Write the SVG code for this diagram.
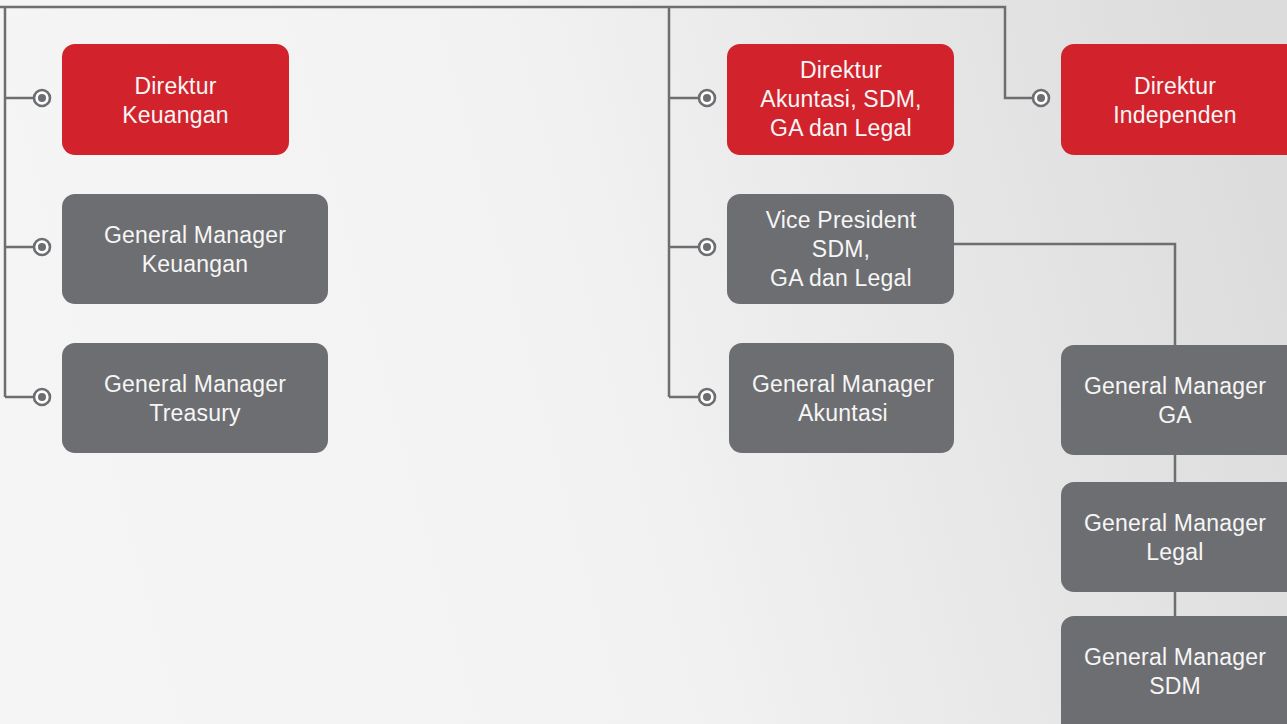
<svg xmlns="http://www.w3.org/2000/svg" width="1287" height="724" viewBox="0 0 1287 724">
<defs>
<linearGradient id="bg" x1="0" y1="0.5" x2="1" y2="0.35">
<stop offset="0" stop-color="#f5f5f5"/>
<stop offset="0.45" stop-color="#f2f2f2"/>
<stop offset="1" stop-color="#dcdcdc"/>
</linearGradient>
<style>
.red{fill:#d2232d}
.gray{fill:#6d6e71}
.ln{fill:none;stroke:#6d6e71;stroke-width:2.5}
.dotring{fill:#ffffff;stroke:#6d6e71;stroke-width:2.6}
.dot{fill:#6d6e71}
text{font-family:"Liberation Sans",Arial,sans-serif;font-size:23px;fill:#f6f6f6;text-anchor:middle;letter-spacing:0.2px}
</style>
</defs>
<rect width="1287" height="724" fill="url(#bg)"/>
<g id="connectors">
<path class="ln" d="M0 7 H1005 V98 H1033"/>
<path class="ln" d="M5 7 V397"/>
<path class="ln" d="M5 98 H34 M5 247 H34 M5 397 H34"/>
<path class="ln" d="M669 7 V397"/>
<path class="ln" d="M669 98 H699 M669 247 H699 M669 397 H699"/>
<path class="ln" d="M954 244 H1175 V345"/>
<path class="ln" d="M1175 455 V482 M1175 592 V616"/>
<g>
<circle class="dotring" cx="42" cy="98" r="8"/><circle class="dot" cx="42" cy="98" r="4"/>
<circle class="dotring" cx="42" cy="247" r="8"/><circle class="dot" cx="42" cy="247" r="4"/>
<circle class="dotring" cx="42" cy="397" r="8"/><circle class="dot" cx="42" cy="397" r="4"/>
<circle class="dotring" cx="707" cy="98" r="8"/><circle class="dot" cx="707" cy="98" r="4"/>
<circle class="dotring" cx="707" cy="247" r="8"/><circle class="dot" cx="707" cy="247" r="4"/>
<circle class="dotring" cx="707" cy="397" r="8"/><circle class="dot" cx="707" cy="397" r="4"/>
<circle class="dotring" cx="1041" cy="98" r="8"/><circle class="dot" cx="1041" cy="98" r="4"/>
</g>
</g>
<g id="dir-keuangan">
<rect class="red" x="62" y="44" width="227" height="111" rx="13"/>
<text x="175.5" y="94">Direktur</text>
<text x="175.5" y="123">Keuangan</text>
</g>
<g id="gm-keuangan">
<rect class="gray" x="62" y="194" width="266" height="110" rx="13"/>
<text x="195" y="243">General Manager</text>
<text x="195" y="272">Keuangan</text>
</g>
<g id="gm-treasury">
<rect class="gray" x="62" y="343" width="266" height="110" rx="13"/>
<text x="195" y="392">General Manager</text>
<text x="195" y="421">Treasury</text>
</g>
<g id="dir-akuntasi">
<rect class="red" x="727" y="44" width="227" height="111" rx="13"/>
<text x="841" y="78">Direktur</text>
<text x="841" y="107">Akuntasi, SDM,</text>
<text x="841" y="136">GA dan Legal</text>
</g>
<g id="dir-independen">
<rect class="red" x="1061" y="44" width="240" height="111" rx="13"/>
<text x="1175" y="94">Direktur</text>
<text x="1175" y="123">Independen</text>
</g>
<g id="vp-sdm">
<rect class="gray" x="727" y="194" width="227" height="110" rx="13"/>
<text x="841" y="228">Vice President</text>
<text x="841" y="257">SDM,</text>
<text x="841" y="286">GA dan Legal</text>
</g>
<g id="gm-akuntasi">
<rect class="gray" x="729" y="343" width="225" height="110" rx="13"/>
<text x="843" y="392">General Manager</text>
<text x="843" y="421">Akuntasi</text>
</g>
<g id="gm-ga">
<rect class="gray" x="1061" y="345" width="240" height="110" rx="13"/>
<text x="1175" y="394">General Manager</text>
<text x="1175" y="423">GA</text>
</g>
<g id="gm-legal">
<rect class="gray" x="1061" y="482" width="240" height="110" rx="13"/>
<text x="1175" y="531">General Manager</text>
<text x="1175" y="560">Legal</text>
</g>
<g id="gm-sdm">
<rect class="gray" x="1061" y="616" width="240" height="130" rx="13"/>
<text x="1175" y="665">General Manager</text>
<text x="1175" y="694">SDM</text>
</g>
</svg>
